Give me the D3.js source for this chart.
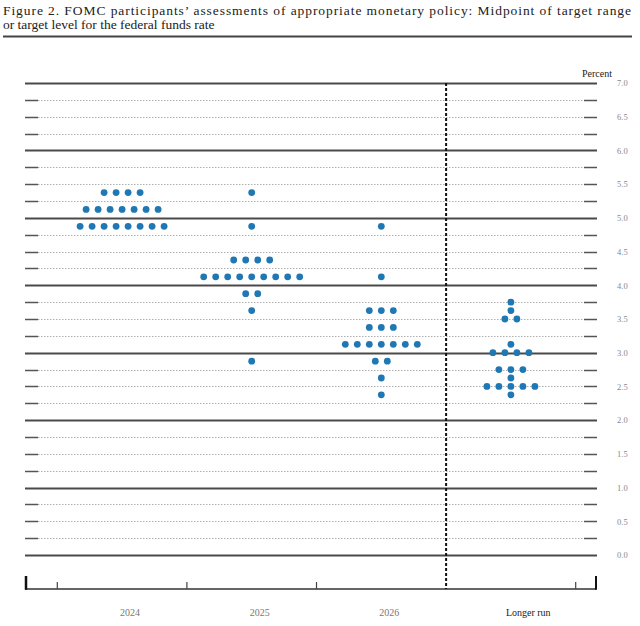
<!DOCTYPE html>
<html>
<head>
<meta charset="utf-8">
<script src="https://cdn.jsdelivr.net/npm/d3@7"></script>
<style>
  html, body { margin: 0; padding: 0; background: #fff; }
  svg { display: block; }
  text { font-family: "Liberation Serif", "DejaVu Serif", serif; }
</style>
</head>
<body>
<svg id="chart" width="640" height="626"></svg>
<script>
// ---- data ----
const titleLines = [
  "Figure 2.  FOMC participants\u2019 assessments of appropriate monetary policy:  Midpoint of target range",
  "or target level for the federal funds rate"
];
const categories = ["2024", "2025", "2026", "Longer run"];
// [rate level, number of participants]
const dots2024 = [[5.375, 4], [5.125, 7], [4.875, 8]];
const dots2025 = [[5.375, 1], [4.875, 1], [4.375, 4], [4.125, 9], [3.875, 2], [3.625, 1], [2.875, 1]];
const dots2026 = [[4.875, 1], [4.125, 1], [3.625, 3], [3.375, 3], [3.125, 7], [2.875, 2], [2.625, 1], [2.375, 1]];
const dotsLonger = [[3.75, 1], [3.625, 1], [3.5, 2], [3.125, 1], [3.0, 4], [2.75, 3], [2.625, 1], [2.5, 5], [2.375, 1]];
const yTickValues = [0, 0.5, 1, 1.5, 2, 2.5, 3, 3.5, 4, 4.5, 5, 5.5, 6, 6.5, 7];
const gridValues = d3.range(0, 7.001, 0.25);
const unitLabel = "Percent";

// ---- layout ----
const svg = d3.select("#chart");
const gridLeft = 25, gridRight = 597;
const axisY = 589;
const y = d3.scaleLinear().domain([0, 7]).range([555, 83]);
const x = d3.scaleBand().domain(categories).range([57.3, 575.7]).padding(0);
const dotStep = 12;
const dotColor = "#1f78b4";
const serif = "'Liberation Serif', 'DejaVu Serif', serif";

// title
const title = svg.append("g");
title.append("text").attr("x", 3).attr("y", 15).attr("font-size", 13.5).attr("fill", "#222")
  .attr("font-family", serif)
  .attr("textLength", 628).attr("lengthAdjust", "spacing").text(titleLines[0]);
title.append("text").attr("x", 3).attr("y", 29).attr("font-size", 13.5).attr("fill", "#222")
  .attr("font-family", serif).text(titleLines[1]);
svg.append("line").attr("x1", 3).attr("x2", 632).attr("y1", 36.5).attr("y2", 36.5)
  .attr("stroke", "#444").attr("stroke-width", 2);

// grid
const grid = svg.append("g");
gridValues.forEach(v => {
  const yy = Math.round(y(v)) + 0.5;
  const isInt = Math.abs(v - Math.round(v)) < 1e-9;
  if (isInt) {
    grid.append("line").attr("x1", gridLeft).attr("x2", gridRight).attr("y1", yy).attr("y2", yy)
      .attr("stroke", "#4a4a4a").attr("stroke-width", 2);
  } else {
    grid.append("line").attr("x1", gridLeft + 13).attr("x2", gridRight - 13).attr("y1", yy).attr("y2", yy)
      .attr("stroke", "#b0b0b0").attr("stroke-width", 1).attr("stroke-dasharray", "1.5,1.5");
    grid.append("line").attr("x1", gridLeft).attr("x2", gridLeft + 13).attr("y1", yy).attr("y2", yy)
      .attr("stroke", "#555").attr("stroke-width", 1.5);
    grid.append("line").attr("x1", gridRight - 13).attr("x2", gridRight).attr("y1", yy).attr("y2", yy)
      .attr("stroke", "#555").attr("stroke-width", 1.5);
  }
});

// right axis labels
const yAxis = d3.axisRight(y).tickValues(yTickValues).tickSize(0).tickFormat(d3.format(".1f"));
const yg = svg.append("g").attr("transform", `translate(${gridRight + 14},0)`).call(yAxis)
  .attr("font-family", serif);
yg.select(".domain").remove();
yg.selectAll("text").attr("font-size", 8.5).attr("fill", "#888").attr("x", 6)
  .attr("font-family", serif);
svg.append("text").attr("x", 597).attr("y", 77).attr("text-anchor", "middle")
  .attr("font-family", serif).attr("font-size", 10).attr("fill", "#222").text(unitLabel);

// bottom axis
const bottom = svg.append("g");
bottom.append("line").attr("x1", gridLeft).attr("x2", 596).attr("y1", axisY).attr("y2", axisY)
  .attr("stroke", "#333").attr("stroke-width", 1.5);
bottom.append("line").attr("x1", gridLeft + 1).attr("x2", gridLeft + 1).attr("y1", 576).attr("y2", axisY + 0.75)
  .attr("stroke", "#111").attr("stroke-width", 2.5);
bottom.append("line").attr("x1", 596).attr("x2", 596).attr("y1", 576).attr("y2", axisY + 0.75)
  .attr("stroke", "#111").attr("stroke-width", 2);
const boundaries = categories.map(c => x(c)).concat([x(categories[categories.length - 1]) + x.bandwidth()]);
boundaries.forEach((bx, i) => {
  if (i === 3) return;
  bottom.append("line").attr("x1", bx).attr("x2", bx).attr("y1", 582).attr("y2", axisY)
    .attr("stroke", "#444").attr("stroke-width", 1.2);
});
// dashed separator before Longer run
const sepX = x("Longer run");
svg.append("line").attr("x1", sepX).attr("x2", sepX).attr("y1", y(7)).attr("y2", axisY)
  .attr("stroke", "#111").attr("stroke-width", 2).attr("stroke-dasharray", "3,2");

categories.forEach(c => {
  const cx = x(c) + x.bandwidth() / 2;
  svg.append("text").attr("x", cx - (c === "Longer run" ? 5 : 2)).attr("y", 616)
    .attr("font-family", serif)
    .attr("font-size", 10).attr("fill", c === "Longer run" ? "#222" : "#777").text(c);
});

// dots
const series = [dots2024, dots2025, dots2026, dotsLonger];
const points = [];
series.forEach((rows, i) => {
  const cx = x(categories[i]) + x.bandwidth() / 2;
  rows.forEach(([v, n]) => {
    for (let k = 0; k < n; k++) {
      points.push({ x: cx + (k - (n - 1) / 2) * dotStep, v });
    }
  });
});
svg.append("g").selectAll("circle").data(points).join("circle")
  .attr("cx", d => d.x).attr("cy", d => y(d.v)).attr("r", 3.4).attr("fill", dotColor);
</script>
</body>
</html>
